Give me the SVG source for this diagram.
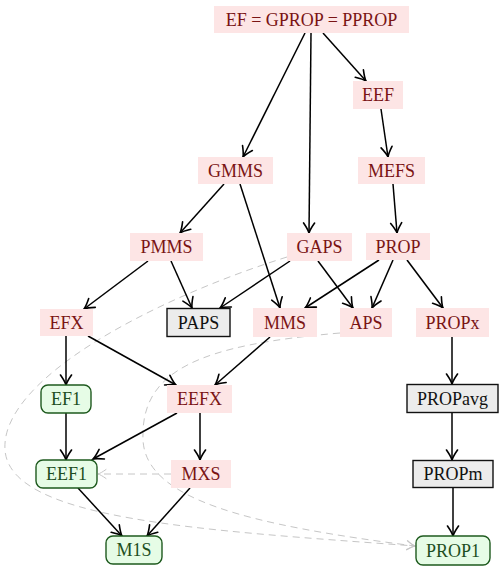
<svg xmlns="http://www.w3.org/2000/svg" width="504" height="570" viewBox="0 0 504 570">
<defs>
<style>
.p rect{fill:#fde5e5;stroke:none}
.p text{fill:#7a1414}
.g rect{fill:#ececec;stroke:#111;stroke-width:1.4}
.g text{fill:#111}
.q rect{fill:#e6fce6;stroke:#1e5a1e;stroke-width:1.4}
.q text{fill:#1e4f1e}
.e line{stroke:#000;stroke-width:1.5;marker-end:url(#a)}
.d{stroke:#c6c6c6;stroke-width:1;fill:none;stroke-dasharray:7 5;marker-end:url(#b)}
</style>
<marker id="a" viewBox="-12 -7 14 14" markerWidth="14" markerHeight="14" refX="0" refY="0" orient="auto" markerUnits="userSpaceOnUse">
<path d="M-10,-5.5 C-5.5,-2.4 -2.2,-0.6 0,0 C-2.2,0.6 -5.5,2.4 -10,5.5" fill="none" stroke="#000" stroke-width="1.6" stroke-linecap="round"/>
</marker>
<marker id="b" viewBox="-11 -6 13 12" markerWidth="13" markerHeight="12" refX="0" refY="0" orient="auto" markerUnits="userSpaceOnUse">
<path d="M-8,-4.5 C-4.5,-2 -2,-0.6 0,0 C-2,0.6 -4.5,2 -8,4.5" fill="none" stroke="#c6c6c6" stroke-width="1" stroke-linecap="round"/>
</marker>
</defs>
<g id="connectors">
<path class="d" d="M287,257 C150,300 0,380 5,450 C10,520 200,530 415,546"/>
<path class="d" d="M340,333 C200,345 140,370 143,440 C146,500 250,525 415,546"/>
<line class="d" x1="171" y1="474" x2="98" y2="474"/>
<g class="e">
<line x1="305" y1="33" x2="243" y2="157"/>
<line x1="311" y1="33" x2="309" y2="233"/>
<line x1="323" y1="33" x2="366" y2="81"/>
<line x1="381" y1="109" x2="388" y2="157"/>
<line x1="393" y1="184" x2="397" y2="233"/>
<line x1="224" y1="184" x2="180" y2="233"/>
<line x1="240" y1="184" x2="280" y2="308"/>
<line x1="148" y1="261" x2="84" y2="309"/>
<line x1="171" y1="261" x2="192" y2="308"/>
<line x1="290" y1="261" x2="220" y2="308"/>
<line x1="318" y1="261" x2="353" y2="308"/>
<line x1="379" y1="260" x2="305" y2="308"/>
<line x1="393" y1="260" x2="372" y2="308"/>
<line x1="407" y1="260" x2="443" y2="308"/>
<line x1="66" y1="336" x2="66" y2="385"/>
<line x1="88" y1="336" x2="176" y2="385"/>
<line x1="270" y1="337" x2="215" y2="385"/>
<line x1="66" y1="413" x2="66" y2="460"/>
<line x1="177" y1="413" x2="93" y2="459"/>
<line x1="200" y1="413" x2="200" y2="460"/>
<line x1="78" y1="488" x2="122" y2="536"/>
<line x1="190" y1="488" x2="147" y2="536"/>
<line x1="452" y1="337" x2="452" y2="384"/>
<line x1="452" y1="413" x2="452" y2="460"/>
<line x1="453" y1="488" x2="453" y2="536"/>
</g>
</g>
<g font-family="Liberation Serif" font-size="18" text-anchor="middle">
<g id="top" class="p"><rect x="214" y="6" width="195" height="27"/><text x="311.5" y="25.5" font-family="Liberation Serif" style="font-family:'Liberation Serif',serif">EF = GPROP = PPROP</text></g>
<g id="EEF" class="p"><rect x="353" y="81" width="50" height="28"/><text x="378" y="101" font-family="Liberation Serif" style="font-family:'Liberation Serif',serif">EEF</text></g>
<g id="GMMS" class="p"><rect x="198" y="157" width="75" height="27"/><text x="235.5" y="176.5" font-family="Liberation Serif" style="font-family:'Liberation Serif',serif">GMMS</text></g>
<g id="MEFS" class="p"><rect x="358" y="157" width="67" height="27"/><text x="391.5" y="176.5" font-family="Liberation Serif" style="font-family:'Liberation Serif',serif">MEFS</text></g>
<g id="PMMS" class="p"><rect x="130" y="233" width="73" height="28"/><text x="166.5" y="253" font-family="Liberation Serif" style="font-family:'Liberation Serif',serif">PMMS</text></g>
<g id="GAPS" class="p"><rect x="287" y="233" width="65" height="28"/><text x="319.5" y="253" font-family="Liberation Serif" style="font-family:'Liberation Serif',serif">GAPS</text></g>
<g id="PROP" class="p"><rect x="366" y="233" width="64" height="27"/><text x="398" y="252.5" font-family="Liberation Serif" style="font-family:'Liberation Serif',serif">PROP</text></g>
<g id="EFX" class="p"><rect x="40" y="309" width="53" height="27"/><text x="66.5" y="328.5" font-family="Liberation Serif" style="font-family:'Liberation Serif',serif">EFX</text></g>
<g id="PAPS" class="g"><rect x="167" y="308.5" width="63" height="28"/><text x="198.5" y="328.5" font-family="Liberation Serif" style="font-family:'Liberation Serif',serif">PAPS</text></g>
<g id="MMS" class="p"><rect x="253" y="308" width="64" height="29"/><text x="285" y="328.5" font-family="Liberation Serif" style="font-family:'Liberation Serif',serif">MMS</text></g>
<g id="APS" class="p"><rect x="340" y="308" width="52" height="29"/><text x="366" y="328.5" font-family="Liberation Serif" style="font-family:'Liberation Serif',serif">APS</text></g>
<g id="PROPx" class="p"><rect x="416" y="308" width="73" height="29"/><text x="452.5" y="328.5" font-family="Liberation Serif" style="font-family:'Liberation Serif',serif">PROPx</text></g>
<g id="EF1" class="q"><rect x="41" y="385" width="50" height="28" rx="7"/><text x="66" y="405" font-family="Liberation Serif" style="font-family:'Liberation Serif',serif">EF1</text></g>
<g id="EEFX" class="p"><rect x="167" y="385" width="65" height="28"/><text x="199.5" y="405" font-family="Liberation Serif" style="font-family:'Liberation Serif',serif">EEFX</text></g>
<g id="PROPavg" class="g"><rect x="407" y="384.5" width="91" height="28"/><text x="452.5" y="404.5" font-family="Liberation Serif" style="font-family:'Liberation Serif',serif">PROPavg</text></g>
<g id="EEF1" class="q"><rect x="36" y="460" width="61" height="28" rx="7"/><text x="66.5" y="480" font-family="Liberation Serif" style="font-family:'Liberation Serif',serif">EEF1</text></g>
<g id="MXS" class="p"><rect x="171" y="460" width="60" height="28"/><text x="201" y="480" font-family="Liberation Serif" style="font-family:'Liberation Serif',serif">MXS</text></g>
<g id="PROPm" class="g"><rect x="413" y="460.5" width="80" height="27"/><text x="453" y="480" font-family="Liberation Serif" style="font-family:'Liberation Serif',serif">PROPm</text></g>
<g id="M1S" class="q"><rect x="106" y="536" width="56" height="28" rx="7"/><text x="134" y="556" font-family="Liberation Serif" style="font-family:'Liberation Serif',serif">M1S</text></g>
<g id="PROP1" class="q"><rect x="416" y="536" width="74" height="29" rx="7"/><text x="453" y="556.5" font-family="Liberation Serif" style="font-family:'Liberation Serif',serif">PROP1</text></g>
</g>
</svg>
